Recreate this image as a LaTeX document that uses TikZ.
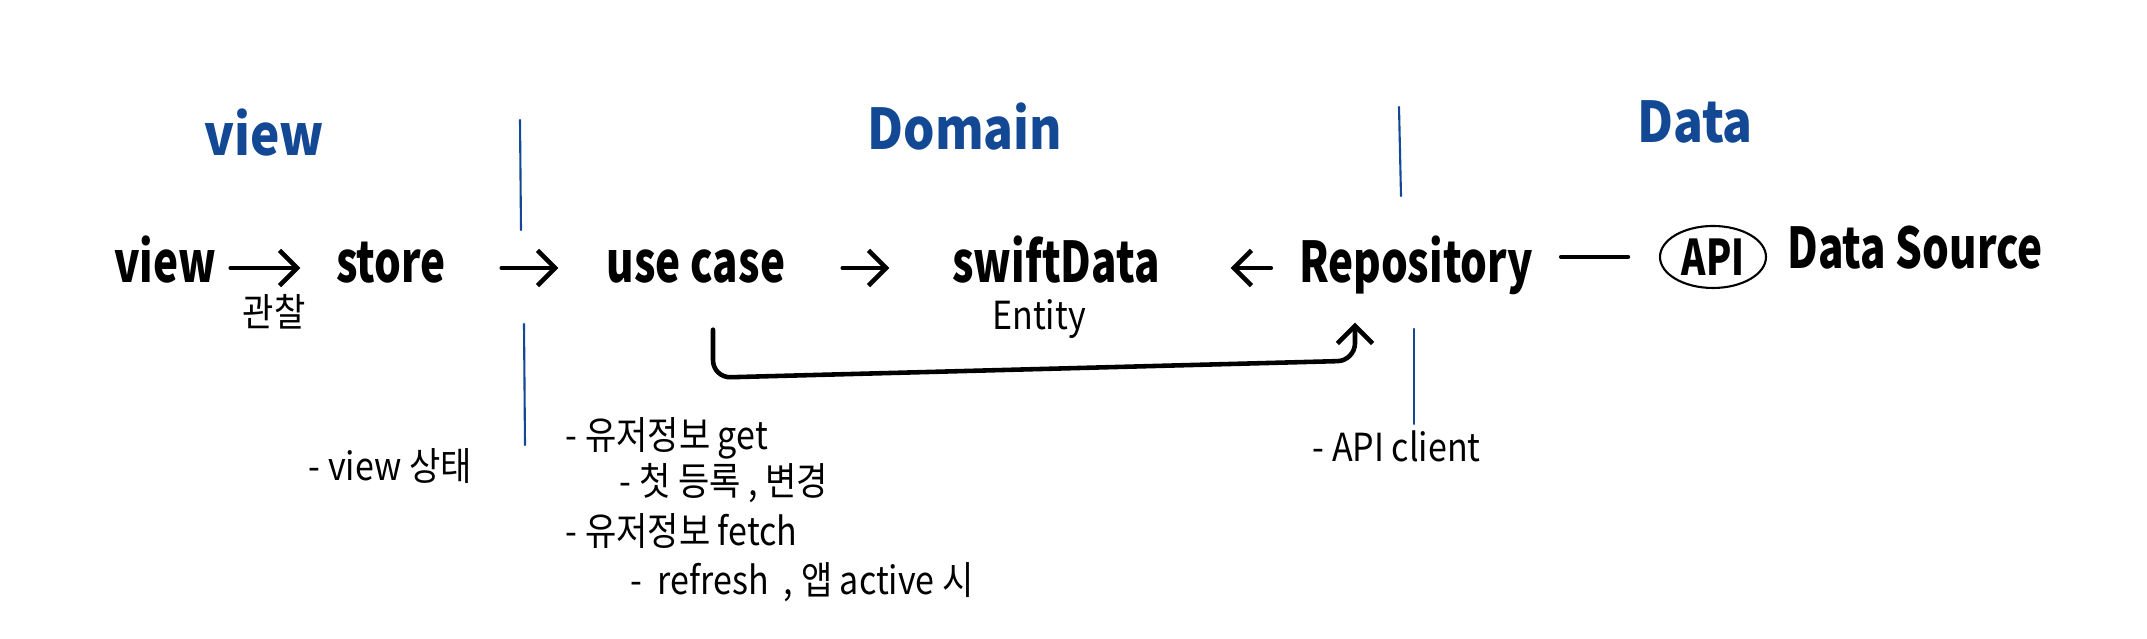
\documentclass[tikz,border=0pt]{standalone}
\usepackage{fontspec}
\newfontfamily\hand[FakeStretch=0.75]{Noto Sans CJK KR}
\newfontfamily\note[FakeStretch=0.88]{Noto Sans CJK KR}
\usetikzlibrary{arrows.meta,shapes.geometric}
\definecolor{inkblue}{RGB}{18,72,148}

\begin{document}
\begin{tikzpicture}[x=1cm,y=1cm,line cap=round,line join=round,
    word/.style={font=\hand\fontsize{16}{19}\selectfont\bfseries,inner sep=0pt,
      anchor=base,text height=0.42cm,text depth=0.12cm},
    layer/.style={font=\note\fontsize{16}{20}\selectfont\bfseries,text=inkblue},
    small/.style={font=\note\fontsize{11}{13}\selectfont,inner sep=0pt},
    note/.style={small,anchor=west},
    apibox/.style={ellipse,draw,line width=0.6pt,inner sep=0pt,
      minimum width=1.06cm,minimum height=0.62cm,
      font=\hand\fontsize{14}{17}\selectfont\bfseries},
    flow/.style={-{Straight Barb[length=5pt,width=10pt]},line width=1.3pt},
    link/.style={line width=1.3pt},
    tier/.style={inkblue,line width=0.6pt}]
  \useasboundingbox (0,0) rectangle (21.47,6.39);

  % layer titles
  \node[layer] (tview) at (2.64,5.06) {view};
  \node[layer] (tdomain) at (9.65,5.12) {Domain};
  \node[layer] (tdata) at (16.95,5.17) {Data};

  \draw[tier] (5.20,5.19) -- (5.21,4.09);
  \draw[tier] (5.24,3.15) -- (5.25,1.94);
  \draw[tier] (13.99,5.32) -- (14.01,4.43);
  \draw[tier] (14.14,3.10) -- (14.14,2.15);

  % main row
  \node[word,minimum width=1.16cm] (view) at (1.65,3.56) {view};
  \node[word,minimum width=1.30cm] (store) at (3.91,3.56) {store};
  \node[word,minimum width=1.96cm] (usecase) at (6.96,3.56) {use case};
  \node[word,minimum width=2.30cm] (swiftdata) at (10.56,3.56) {swiftData};
  \node[word,minimum width=2.35cm] (repo) at (14.16,3.56) {Repository};
  \node[apibox] (api) at (17.13,3.82) {API};
  \node[word,minimum width=2.70cm] (source) at (19.15,3.70) {Data Source};

  \node[small] (observe) at (2.74,3.27) {관찰};
  \node[small] (entity) at (10.39,3.20) {Entity};

  \draw[flow,shorten <=0.07cm,shorten >=0.25cm] (view) -- (store);
  \draw[flow,shorten <=0.45cm,shorten >=0.39cm] (store) -- (usecase);
  \draw[flow,shorten <=0.48cm,shorten >=0.51cm] (usecase) -- (swiftdata);
  \draw[flow,shorten <=0.27cm,shorten >=0.59cm] (repo) -- (swiftdata);
  \draw[link,shorten <=0.27cm,shorten >=0.31cm] (repo.east |- api.west) -- (api.west);

  \draw[flow,rounded corners=5pt] ([xshift=0.17cm,yshift=-0.34cm]usecase.south)
    -- ++(0,-0.48) -- ([xshift=-0.61cm,yshift=-0.65cm]repo.south)
    -- ([xshift=-0.61cm,yshift=-0.27cm]repo.south);

  % notes
  \node[note] (viewstate) at (3.08,1.73) {- view 상태};
  \node[note] (userget) at (5.65,2.01) {- 유저정보 get};
  \node[note] (firstreg) at (6.19,1.56) {- 첫 등록 , 변경};
  \node[note] (userfetch) at (5.65,1.08) {- 유저정보 fetch};
  \node[note] (refresh) at (6.30,0.57) {-\ \ refresh\ \ , 앱 active 시};
  \node[note] (apiclient) at (13.12,1.93) {- API client};
\end{tikzpicture}
\end{document}
